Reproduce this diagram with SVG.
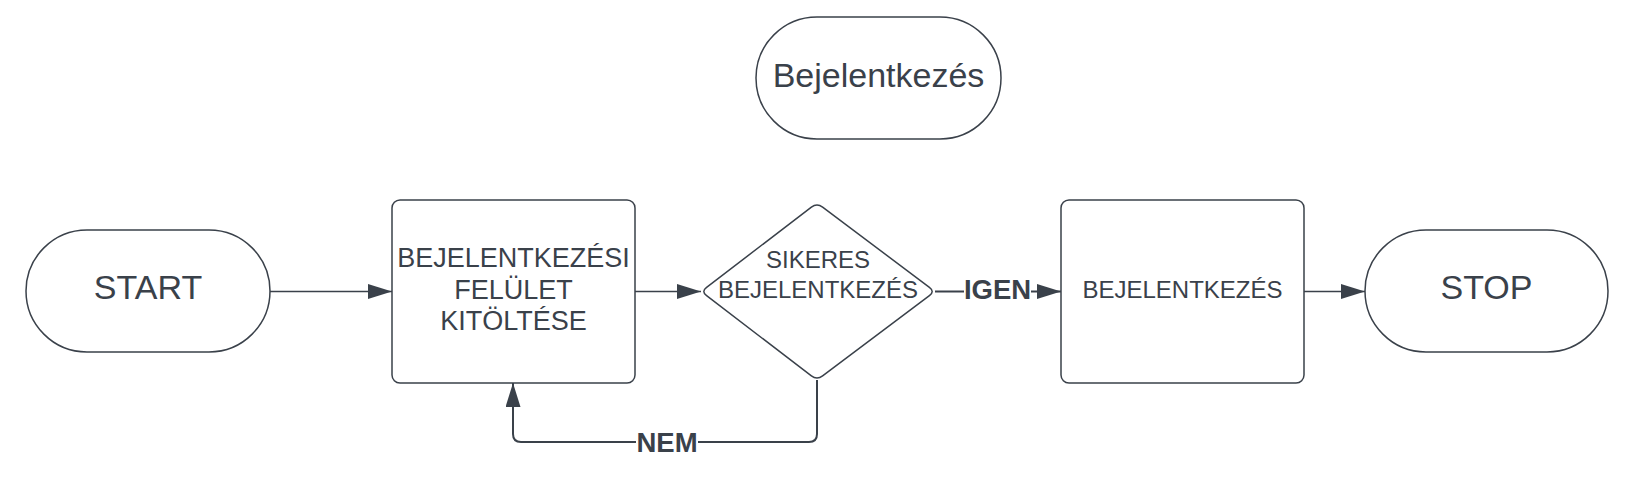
<svg xmlns="http://www.w3.org/2000/svg" width="1650" height="488" viewBox="0 0 1650 488">
<style>
.node{fill:#ffffff;stroke:#3a414a;stroke-width:1.5}
.t{font-family:"Liberation Sans",Arial,sans-serif;fill:#3a414a;text-anchor:middle}
.big{font-size:34px}
.mid{font-size:27px}
.sm{font-size:24px}
.lbl{font-family:"Liberation Sans",Arial,sans-serif;font-weight:bold;font-size:27.5px;fill:#3a414a;text-anchor:middle}
.edge{fill:none;stroke:#3a414a;stroke-width:1.5}
.edge2{fill:none;stroke:#3a414a;stroke-width:2}
</style>
<defs>
<marker id="arr" markerUnits="userSpaceOnUse" markerWidth="26" markerHeight="16" refX="24" refY="7.5" orient="auto">
<path d="M0,0 L24,7.5 L0,15 Z" fill="#3a414a"/>
</marker>
</defs>
<rect width="1650" height="488" fill="#ffffff"/>
<g id="title">
<rect class="node" x="756" y="17" width="245" height="122" rx="61" ry="61"/>
<text class="t big" x="878.5" y="87">Bejelentkezés</text>
</g>
<g id="start">
<rect class="node" x="26" y="230" width="244" height="122" rx="61" ry="61"/>
<text class="t big" x="148" y="299">START</text>
</g>
<g id="fill">
<rect class="node" x="392" y="200" width="243" height="183" rx="8" ry="8"/>
<text class="t mid" x="513.5" y="267">BEJELENTKEZÉSI</text>
<text class="t mid" x="513.5" y="298.5">FELÜLET</text>
<text class="t mid" x="513.5" y="330">KITÖLTÉSE</text>
</g>
<g id="decision">
<path class="node" d="M706.6,287.3 L811.4,207.2 Q817,203 822.6,207.2 L929.4,287.3 Q935,291.5 929.4,295.7 L822.6,375.8 Q817,380 811.4,375.8 L706.6,295.7 Q701,291.5 706.6,287.3 Z"/>
<text class="t sm" x="818" y="268">SIKERES</text>
<text class="t sm" x="818" y="297.5">BEJELENTKEZÉS</text>
</g>
<g id="login">
<rect class="node" x="1061" y="200" width="243" height="183" rx="8" ry="8"/>
<text class="t sm" x="1182.5" y="297.5">BEJELENTKEZÉS</text>
</g>
<g id="stop">
<rect class="node" x="1365" y="230" width="243" height="122" rx="61" ry="61"/>
<text class="t big" x="1486.5" y="299">STOP</text>
</g>
<g id="connectors">
<path class="edge" d="M270,291.5 L392,291.5" marker-end="url(#arr)"/>
<path class="edge" d="M635,291.5 L701,291.5" marker-end="url(#arr)"/>
<path class="edge2" d="M935,291.5 L1061,291.5" marker-end="url(#arr)"/>
<path class="edge" d="M1304,291.5 L1365,291.5" marker-end="url(#arr)"/>
<path class="edge2" d="M817,380 L817,434 Q817,442 809,442 L521,442 Q513,442 513,434 L513,383" marker-end="url(#arr)"/>
<rect x="964" y="276" width="67" height="28" fill="#ffffff"/>
<text class="lbl" x="997.5" y="298.5">IGEN</text>
<rect x="636" y="428" width="62" height="28" fill="#ffffff"/>
<text class="lbl" x="667" y="451.5">NEM</text>
</g>
</svg>
